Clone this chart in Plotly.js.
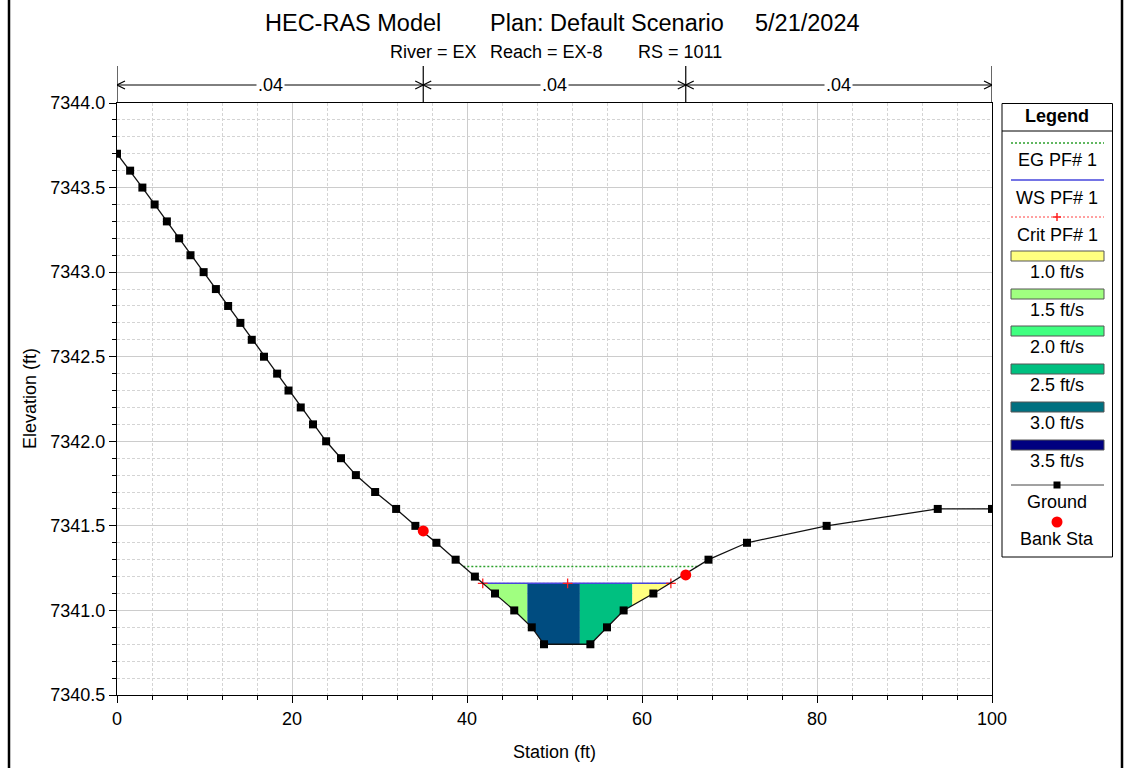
<!DOCTYPE html>
<html><head><meta charset="utf-8">
<script src="https://cdn.plot.ly/plotly-3.0.1.min.js"></script>
<style>html,body{margin:0;padding:0;background:#fff;} #chart{width:1126px;height:768px;}</style>
</head><body><div id="chart"></div>
<script>
// ---------------- data ----------------
const groundSta  = [0, 1.5, 2.9, 4.3, 5.7, 7.1, 8.4, 9.9, 11.3, 12.7, 14.1, 15.4, 16.8, 18.3, 19.6, 21.0, 22.4, 23.9, 25.6, 27.3, 29.5, 31.9, 34.1, 36.5, 38.7, 40.9, 43.2, 45.4, 47.4, 48.8, 54.1, 56.0, 57.9, 61.3, 67.6, 72.0, 81.1, 93.8, 100];
const groundElev = [7343.7, 7343.6, 7343.5, 7343.4, 7343.3, 7343.2, 7343.1, 7343.0, 7342.9, 7342.8, 7342.7, 7342.6, 7342.5, 7342.4, 7342.3, 7342.2, 7342.1, 7342.0, 7341.9, 7341.8, 7341.7, 7341.6, 7341.5, 7341.4, 7341.3, 7341.2, 7341.1, 7341.0, 7340.9, 7340.8, 7340.8, 7340.9, 7341.0, 7341.1, 7341.3, 7341.4, 7341.5, 7341.6, 7341.6];
const bankSta  = [35, 65];
const bankElev = [7341.47, 7341.21];
const nSta   = [0, 35, 65, 100];
const nValue = ['.04', '.04', '.04'];
const wsElev = 7341.16;   // WS PF# 1
const egElev = 7341.26;   // EG PF# 1
const critSta  = [41.8, 51.5, 63.3];
const critElev = [7341.16, 7341.16, 7341.16];
const velBreaks = [46.9, 52.9, 58.9];      // velocity subdivision stations
const velValues = [1.5, 3.16, 2.5, 1.0];   // ft/s per subdivision
const legendVel    = [1.0, 1.5, 2.0, 2.5, 3.0, 3.5];
const legendLabels = ['1.0 ft/s', '1.5 ft/s', '2.0 ft/s', '2.5 ft/s', '3.0 ft/s', '3.5 ft/s'];
const legendColors = ['#FFFF80', '#A0FF80', '#40FF80', '#00C080', '#007080', '#000080'];

// ---------------- helpers ----------------
const FONT = 'Liberation Sans, Arial, sans-serif';
const W = 1126, H = 768, L = 117, R = 134, T = 103, B = 73;
const PW = W - L - R, PH = H - T - B;
const px2x = p => (p - L) / PW;
const py2y = p => (H - B - p) / PH;

function groundAt(x) {
  for (let i = 0; i < groundSta.length - 1; i++) {
    if (x >= groundSta[i] && x <= groundSta[i + 1]) {
      const t = (x - groundSta[i]) / (groundSta[i + 1] - groundSta[i]);
      return groundElev[i] + t * (groundElev[i + 1] - groundElev[i]);
    }
  }
  return groundElev[groundElev.length - 1];
}
function crossings(level) {
  let left = null, right = null;
  for (let i = 0; i < groundSta.length - 1; i++) {
    const e0 = groundElev[i], e1 = groundElev[i + 1];
    if (left === null && e0 >= level && e1 < level) {
      left = groundSta[i] + (level - e0) / (e1 - e0) * (groundSta[i + 1] - groundSta[i]);
    }
    if (e0 < level && e1 >= level) {
      right = groundSta[i] + (level - e0) / (e1 - e0) * (groundSta[i + 1] - groundSta[i]);
    }
  }
  return [left, right];
}
function hexToRgb(h) { return [1, 3, 5].map(k => parseInt(h.substr(k, 2), 16)); }
function velColor(v) {
  for (let i = 0; i < legendVel.length - 1; i++) {
    if (v >= legendVel[i] && v <= legendVel[i + 1]) {
      const t = (v - legendVel[i]) / (legendVel[i + 1] - legendVel[i]);
      const a = hexToRgb(legendColors[i]), b = hexToRgb(legendColors[i + 1]);
      const c = a.map((av, k) => Math.round(av + t * (b[k] - av)));
      return `rgb(${c[0]},${c[1]},${c[2]})`;
    }
  }
  return v < legendVel[0] ? legendColors[0] : legendColors[legendColors.length - 1];
}

// ---------------- traces ----------------
const [wsL, wsR] = crossings(wsElev);
const [egL, egR] = crossings(egElev);
const bounds = [wsL, ...velBreaks, wsR];
const traces = [];

for (let c = 0; c < bounds.length - 1; c++) {
  const a = bounds[c], b = bounds[c + 1];
  const xs = [a, b, b], ys = [wsElev, wsElev, groundAt(b)];
  for (let i = groundSta.length - 1; i >= 0; i--) {
    if (groundSta[i] > a && groundSta[i] < b) { xs.push(groundSta[i]); ys.push(groundElev[i]); }
  }
  xs.push(a); ys.push(groundAt(a));
  traces.push({ x: xs, y: ys, type: 'scatter', mode: 'lines', fill: 'toself',
    fillcolor: velColor(velValues[c]), line: { width: 0 }, hoverinfo: 'skip', showlegend: false });
}
traces.push({ x: [egL, egR], y: [egElev, egElev], type: 'scatter', mode: 'lines',
  line: { color: '#2ca02c', width: 1.5, dash: '2px,2px' }, showlegend: false });
traces.push({ x: critSta, y: critElev, type: 'scatter', mode: 'lines',
  line: { color: '#ff4040', width: 1, dash: '2px,2px' }, showlegend: false });
traces.push({ x: [wsL, wsR], y: [wsElev, wsElev], type: 'scatter', mode: 'lines',
  line: { color: '#4646dc', width: 1.5 }, showlegend: false });
traces.push({ x: critSta, y: critElev, type: 'scatter', mode: 'markers',
  marker: { symbol: 'cross-thin', size: 7, line: { color: '#ff2020', width: 1.3 } }, showlegend: false });
traces.push({ x: groundSta, y: groundElev, type: 'scatter', mode: 'lines+markers',
  line: { color: '#111', width: 1.3 }, marker: { symbol: 'square', size: 8, color: '#000' }, showlegend: false });
traces.push({ x: bankSta, y: bankElev, type: 'scatter', mode: 'markers',
  marker: { symbol: 'circle', size: 11, color: '#ff0000' }, showlegend: false });

// ---------------- shapes & annotations ----------------
const shapes = [], annotations = [];
// Manning's n breakpoints
const barTop = py2y(66), arrowY = py2y(85);
const dxHead = 8 / (PW / 100), dyHead = 4 / PH;
nSta.forEach(s => shapes.push({ type: 'line', xref: 'x', yref: 'paper', x0: s, x1: s, y0: 1, y1: barTop, line: { color: '#000', width: 1.2 } }));
for (let i = 0; i < nValue.length; i++) {
  const a = nSta[i], b = nSta[i + 1];
  shapes.push({ type: 'line', xref: 'x', yref: 'paper', x0: a, x1: b, y0: arrowY, y1: arrowY, line: { color: '#000', width: 1 } });
  shapes.push({ type: 'path', xref: 'x', yref: 'paper', path: `M ${a + dxHead},${arrowY + dyHead} L ${a},${arrowY} L ${a + dxHead},${arrowY - dyHead}`, line: { color: '#000', width: 1.2 } });
  shapes.push({ type: 'path', xref: 'x', yref: 'paper', path: `M ${b - dxHead},${arrowY + dyHead} L ${b},${arrowY} L ${b - dxHead},${arrowY - dyHead}`, line: { color: '#000', width: 1.2 } });
  annotations.push({ xref: 'x', yref: 'paper', x: (a + b) / 2, y: arrowY, text: nValue[i], showarrow: false,
    bgcolor: '#fff', borderpad: 1, font: { family: FONT, size: 18, color: '#000' }, xanchor: 'center', yanchor: 'middle' });
}
// outer frame (left/right)
[9, 1122].forEach(p => shapes.push({ type: 'line', xref: 'paper', yref: 'paper', x0: px2x(p), x1: px2x(p), y0: py2y(0), y1: py2y(768), line: { color: '#000', width: 2.5 } }));

// titles
const tf = (size) => ({ family: FONT, size: size, color: '#000' });
annotations.push({ xref: 'paper', yref: 'paper', x: px2x(263), y: py2y(23), xanchor: 'left', yanchor: 'middle', showarrow: false, text: 'HEC-RAS Model', font: tf(23.5) });
annotations.push({ xref: 'paper', yref: 'paper', x: px2x(488), y: py2y(23), xanchor: 'left', yanchor: 'middle', showarrow: false, text: 'Plan: Default Scenario', font: tf(23.5) });
annotations.push({ xref: 'paper', yref: 'paper', x: px2x(862), y: py2y(23), xanchor: 'right', yanchor: 'middle', showarrow: false, text: '5/21/2024', font: tf(23.5) });
annotations.push({ xref: 'paper', yref: 'paper', x: px2x(388), y: py2y(52), xanchor: 'left', yanchor: 'middle', showarrow: false, text: 'River = EX', font: tf(18) });
annotations.push({ xref: 'paper', yref: 'paper', x: px2x(488), y: py2y(52), xanchor: 'left', yanchor: 'middle', showarrow: false, text: 'Reach = EX-8', font: tf(18) });
annotations.push({ xref: 'paper', yref: 'paper', x: px2x(724), y: py2y(52), xanchor: 'right', yanchor: 'middle', showarrow: false, text: 'RS = 1011', font: tf(18) });
// axis titles
annotations.push({ xref: 'paper', yref: 'paper', x: px2x(554), y: py2y(752), xanchor: 'center', yanchor: 'middle', showarrow: false, text: 'Station (ft)', font: tf(18) });
annotations.push({ xref: 'paper', yref: 'paper', x: px2x(30), y: py2y(399), xanchor: 'center', yanchor: 'middle', showarrow: false, text: 'Elevation (ft)', textangle: -90, font: tf(18) });

// legend box
const LX0 = 1002, LX1 = 1112.5, LC = 1057, SX0 = 1011, SX1 = 1104;
shapes.push({ type: 'rect', xref: 'paper', yref: 'paper', x0: px2x(LX0), x1: px2x(LX1), y0: py2y(557), y1: py2y(103.5), line: { color: '#000', width: 1 }, fillcolor: '#fff', layer: 'below' });
shapes.push({ type: 'line', xref: 'paper', yref: 'paper', x0: px2x(LX0), x1: px2x(LX1), y0: py2y(131), y1: py2y(131), line: { color: '#000', width: 1 } });
const legText = (t, py) => annotations.push({ xref: 'paper', yref: 'paper', x: px2x(LC), y: py2y(py), xanchor: 'center', yanchor: 'middle', showarrow: false, text: t, font: tf(18) });
legText('<b>Legend</b>', 116);
const legLine = (py, color, dash, width) => shapes.push({ type: 'line', xref: 'paper', yref: 'paper', x0: px2x(SX0), x1: px2x(SX1), y0: py2y(py), y1: py2y(py), line: { color: color, width: width, dash: dash } });
legLine(143, '#2ca02c', '2px,2px', 1.5); legText('EG PF# 1', 160);
legLine(180, '#4646dc', 'solid', 1.5); legText('WS PF# 1', 198);
legLine(217, '#ff4040', '2px,2px', 1);
shapes.push({ type: 'line', xref: 'paper', yref: 'paper', x0: px2x(LC - 4), x1: px2x(LC + 4), y0: py2y(217), y1: py2y(217), line: { color: '#ff2020', width: 1.5 } });
shapes.push({ type: 'line', xref: 'paper', yref: 'paper', x0: px2x(LC), x1: px2x(LC), y0: py2y(213), y1: py2y(221), line: { color: '#ff2020', width: 1.5 } });
legText('Crit PF# 1', 235);
const swTop = [251, 289, 326, 364, 402, 440];
legendLabels.forEach((lab, i) => {
  shapes.push({ type: 'rect', xref: 'paper', yref: 'paper', x0: px2x(SX0), x1: px2x(SX1), y0: py2y(swTop[i] + 10), y1: py2y(swTop[i]), fillcolor: legendColors[i], line: { color: '#555', width: 1 } });
  legText(lab, swTop[i] + 21);
});
legLine(485, '#444', 'solid', 1);
shapes.push({ type: 'rect', xref: 'paper', yref: 'paper', x0: px2x(LC - 3.5), x1: px2x(LC + 3.5), y0: py2y(488.5), y1: py2y(481.5), fillcolor: '#000', line: { width: 0 } });
legText('Ground', 502);
shapes.push({ type: 'circle', xref: 'paper', yref: 'paper', x0: px2x(LC - 5.5), x1: px2x(LC + 5.5), y0: py2y(527.5), y1: py2y(516.5), fillcolor: '#ff0000', line: { width: 0 } });
legText('Bank Sta', 539);

// ---------------- layout ----------------
const axisCommon = {
  showline: true, mirror: true, linecolor: '#000', linewidth: 1,
  ticks: 'outside', ticklen: 7, tickcolor: '#000', tickwidth: 1,
  tickfont: { family: FONT, size: 18, color: '#000' },
  showgrid: true, gridcolor: '#cccccc', gridwidth: 1, zeroline: false, fixedrange: true
};
const layout = {
  width: W, height: H, margin: { l: L, r: R, t: T, b: B, pad: 0 },
  paper_bgcolor: '#fff', plot_bgcolor: '#fff', hovermode: false, showlegend: false,
  xaxis: Object.assign({}, axisCommon, { range: [0, 100], tick0: 0, dtick: 20,
    minor: { tick0: 0, dtick: 4, ticks: 'outside', ticklen: 4, tickcolor: '#000', showgrid: true, gridcolor: '#d4d4d4', griddash: '3px,2px', gridwidth: 1 } }),
  yaxis: Object.assign({}, axisCommon, { range: [7340.5, 7344.0], tick0: 7340.5, dtick: 0.5, tickformat: '.1f',
    minor: { tick0: 7340.5, dtick: 0.1, ticks: 'outside', ticklen: 4, tickcolor: '#000', showgrid: true, gridcolor: '#d4d4d4', griddash: '3px,2px', gridwidth: 1 } }),
  shapes: shapes, annotations: annotations
};
Plotly.newPlot('chart', traces, layout, { displayModeBar: false, staticPlot: true });
</script>
</body></html>
